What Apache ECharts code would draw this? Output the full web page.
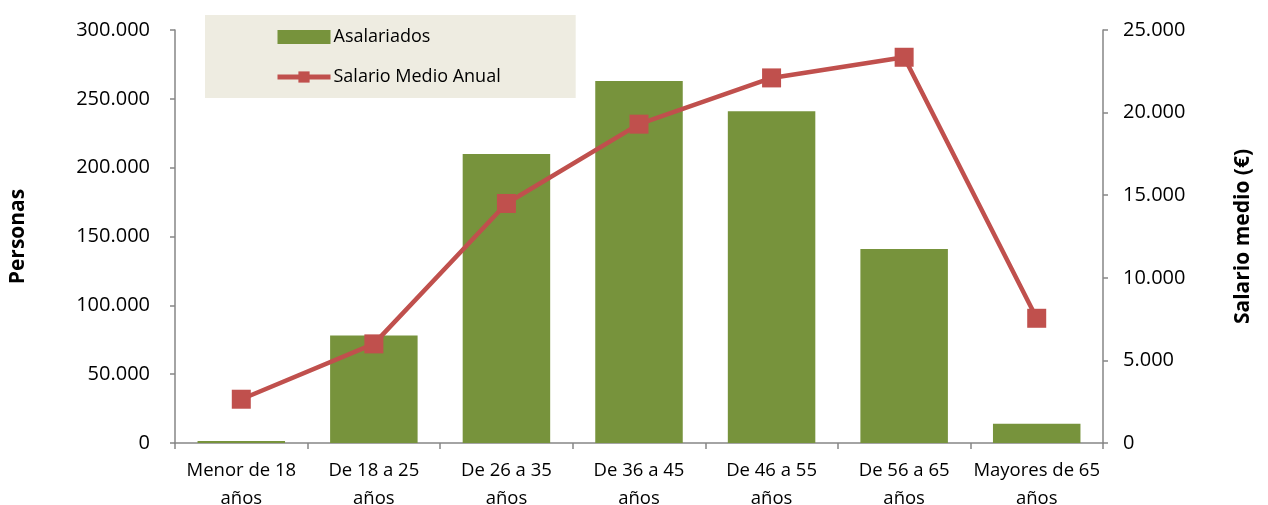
<!DOCTYPE html>
<html><head><meta charset="utf-8">
<script src="https://cdn.jsdelivr.net/npm/echarts@6/dist/echarts.min.js"></script>
<style>html,body{margin:0;padding:0;background:#fff}#c{width:1268px;height:505px}</style>
</head><body><div id="c"></div>
<script>
const categories = ['Menor de 18\naños','De 18 a 25\naños','De 26 a 35\naños','De 36 a 45\naños','De 46 a 55\naños','De 56 a 65\naños','Mayores de 65\naños'];
const asalariados = [1500, 78000, 210000, 263000, 241000, 141000, 14000];
const salarioMedio = [2650, 6000, 14500, 19300, 22100, 23350, 7550];
const leftTicks = {min: 0, max: 300000, interval: 50000};
const rightTicks = {min: 0, max: 25000, interval: 5000};

const fmt = v => String(v).replace(/\B(?=(\d{3})+(?!\d))/g, '.');
const FONT = 'Open Sans';
const chart = echarts.init(document.getElementById('c'));
chart.setOption({
  animation: false,
  textStyle: {fontFamily: FONT},
  grid: {left: 175, right: 165, top: 30, bottom: 62, containLabel: false, outerBoundsMode: 'none'},
  legend: {
    orient: 'vertical', left: 205, top: 15,
    padding: [13, 75, 12, 70], itemGap: 22,
    backgroundColor: '#EEECE1',
    itemWidth: 53, itemHeight: 14,
    textStyle: {fontFamily: FONT, fontSize: 18, color: '#000', padding: [0,0,0,-2]},
    data: [
      {name: 'Asalariados', icon: 'rect', itemStyle: {color: '#77933C'}},
      {name: 'Salario Medio Anual', lineStyle: {color: '#C0504D', width: 5}, itemStyle: {color: '#C0504D'}}
    ]
  },
  xAxis: {
    type: 'category', data: categories,
    axisLine: {lineStyle: {color: '#868686', width: 1.5}},
    axisTick: {show: true, alignWithLabel: false, length: 6, lineStyle: {color: '#868686', width: 1.5}},
    axisLabel: {color: '#000', fontSize: 18.5, lineHeight: 28, margin: 14, interval: 0}
  },
  yAxis: [
    {
      type: 'value', min: leftTicks.min, max: leftTicks.max, interval: leftTicks.interval,
      name: 'Personas', nameLocation: 'middle', nameGap: 146, nameRotate: 90,
      nameTextStyle: {fontFamily: FONT, fontWeight: 'bold', fontSize: 21, color: '#000'},
      axisLine: {show: true, lineStyle: {color: '#868686', width: 1.5}},
      axisTick: {show: true, length: 5, lineStyle: {color: '#868686', width: 1.5}},
      splitLine: {show: false},
      axisLabel: {color: '#000', fontSize: 20, margin: 25, formatter: fmt}
    },
    {
      type: 'value', min: rightTicks.min, max: rightTicks.max, interval: rightTicks.interval,
      name: 'Salario medio (€)', nameLocation: 'middle', nameGap: 130, nameRotate: 90,
      nameTextStyle: {fontFamily: FONT, fontWeight: 'bold', fontSize: 21, color: '#000'},
      axisLine: {show: true, lineStyle: {color: '#868686', width: 1.5}},
      axisTick: {show: true, length: 5, lineStyle: {color: '#868686', width: 1.5}},
      splitLine: {show: false},
      axisLabel: {color: '#000', fontSize: 20, margin: 20, formatter: fmt}
    }
  ],
  series: [
    {
      name: 'Asalariados', type: 'bar', data: asalariados, yAxisIndex: 0,
      barCategoryGap: '34%', itemStyle: {color: '#77933C'}
    },
    {
      name: 'Salario Medio Anual', type: 'line', data: salarioMedio, yAxisIndex: 1,
      symbol: 'rect', symbolSize: 19,
      lineStyle: {color: '#C0504D', width: 4.5},
      itemStyle: {color: '#C0504D'}
    }
  ]
});
</script></body></html>
